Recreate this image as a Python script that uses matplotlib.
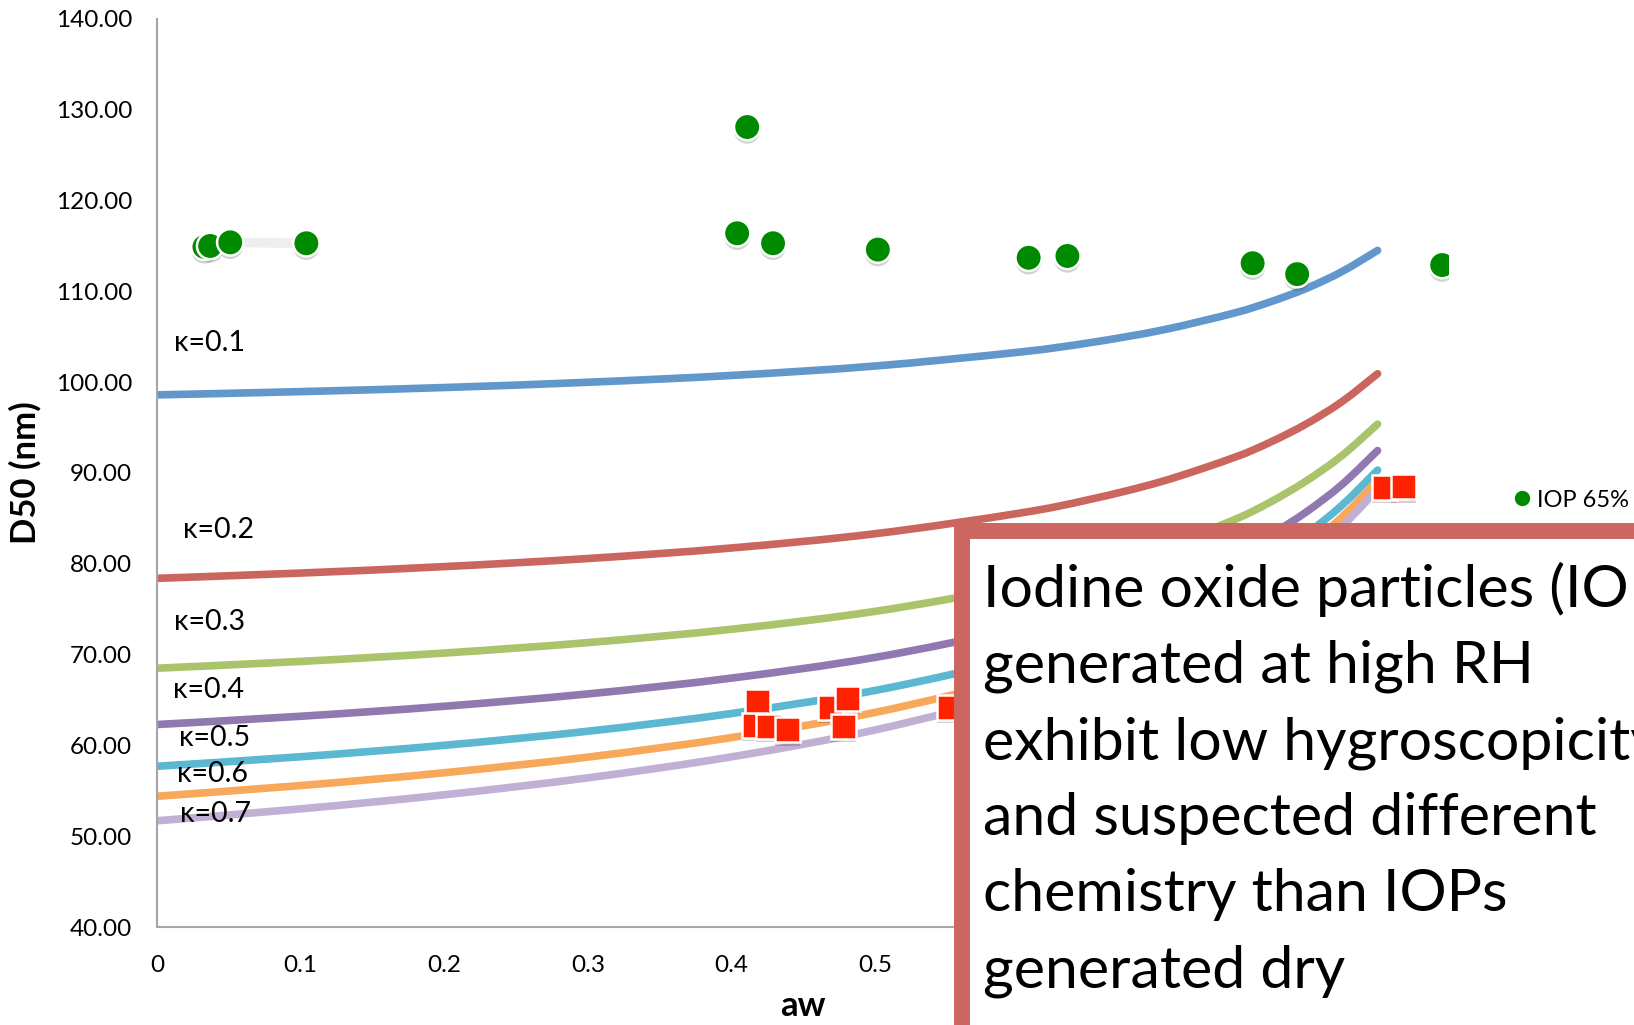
import matplotlib.pyplot as plt
import matplotlib.patheffects as pe
from matplotlib.lines import Line2D
from matplotlib.patches import Rectangle, PathPatch
from matplotlib.path import Path

plt.rcParams['font.family'] = ['Lato', 'DejaVu Sans']

# modelled curves
aw_model = [0, 0.1, 0.2, 0.3, 0.4, 0.5, 0.6, 0.65, 0.7, 0.75, 0.775, 0.8, 0.825, 0.85]
kappa_labels = ['κ=0.1', 'κ=0.2', 'κ=0.3', 'κ=0.4', 'κ=0.5', 'κ=0.6', 'κ=0.7']
d_k01 = [98.6, 98.96, 99.41, 99.99, 100.74, 101.78, 103.30, 104.36, 105.74, 107.61, 108.83, 110.30, 112.16, 114.51]
d_k02 = [78.4, 78.98, 79.69, 80.58, 81.74, 83.31, 85.56, 87.10, 89.08, 91.70, 93.37, 95.37, 97.83, 100.93]
d_k03 = [68.5, 69.25, 70.17, 71.32, 72.79, 74.76, 77.54, 79.39, 81.75, 84.84, 86.77, 89.09, 91.89, 95.38]
d_k04 = [62.3, 63.21, 64.31, 65.67, 67.41, 69.69, 72.87, 74.98, 77.61, 81.03, 83.16, 85.67, 88.70, 92.47]
d_k05 = [57.7, 58.75, 60.01, 61.56, 63.51, 66.05, 69.53, 71.82, 74.66, 78.31, 80.56, 83.22, 86.42, 90.32]
d_k06 = [54.4, 55.58, 56.99, 58.71, 60.86, 63.63, 67.38, 69.82, 72.83, 76.67, 79.04, 81.80, 85.12, 89.14]
d_k07 = [51.7, 53.01, 54.56, 56.43, 58.74, 61.70, 65.67, 68.24, 71.37, 75.38, 77.82, 80.68, 84.07, 88.21]
curves = [d_k01, d_k02, d_k03, d_k04, d_k05, d_k06, d_k07]
curve_colors = ['#6297CB', '#CB665F', '#A9C46B', '#9079AF', '#5BB8D0', '#F8A85A', '#C1B0D4']
label_pos = [(0.012, 104.3), (0.018, 83.7), (0.012, 73.6), (0.011, 66.1),
             (0.015, 60.8), (0.014, 56.9), (0.016, 52.4)]

# IOP 65% (green)
aw_iop65 = [0.033, 0.037, 0.051, 0.104, 0.411, 0.404, 0.429, 0.502, 0.607, 0.634, 0.763, 0.794, 0.895]
d_iop65 = [114.9, 115.0, 115.4, 115.3, 128.1, 116.4, 115.3, 114.6, 113.7, 113.9, 113.1, 111.9, 112.9]

# IOP dry (red squares)
aw_iopdry = [0.418, 0.416, 0.426, 0.439, 0.469, 0.481, 0.478, 0.552, 0.855, 0.868]
d_iopdry = [64.8, 62.2, 62.1, 61.7, 64.2, 65.2, 62.1, 64.2, 88.4, 88.5]

# x tick labels visible left of the text box
xticks = [0, 0.1, 0.2, 0.3, 0.4, 0.5]
xtick_labels = ['0', '0.1', '0.2', '0.3', '0.4', '0.5']


def smooth_path(xs, ys):
    # Excel-like smoothed line: cubic Bezier through the points
    verts = [(xs[0], ys[0])]
    codes = [Path.MOVETO]
    n = len(xs)
    for i in range(n - 1):
        x0, y0 = (xs[i - 1], ys[i - 1]) if i > 0 else (xs[i], ys[i])
        x1, y1 = xs[i], ys[i]
        x2, y2 = xs[i + 1], ys[i + 1]
        x3, y3 = (xs[i + 2], ys[i + 2]) if i + 2 < n else (x2, y2)
        verts += [(x1 + (x2 - x0) / 6, y1 + (y2 - y0) / 6),
                  (x2 - (x3 - x1) / 6, y2 - (y3 - y1) / 6),
                  (x2, y2)]
        codes += [Path.CURVE4] * 3
    return Path(verts, codes)


fig = plt.figure(figsize=(16.34, 10.25), dpi=100)
ax = fig.add_axes([0.0961, 0.0956, 0.7909, 0.8859])

for d, c, lab, (lx, ly) in zip(curves, curve_colors, kappa_labels, label_pos):
    ax.add_patch(PathPatch(smooth_path(aw_model, d), facecolor='none', edgecolor=c,
                           lw=5.5, capstyle='round', zorder=2))
    ax.text(lx, ly, lab, fontsize=20.5, va='center', ha='left', zorder=5)

shadow = [pe.SimplePatchShadow(offset=(0, -2.5), alpha=0.2), pe.Normal()]
ax.plot(aw_iop65[2:4], d_iop65[2:4], color='#EEEEEE', lw=7, zorder=3)
ax.plot(aw_iop65, d_iop65, ls='none', marker='o', ms=19, mfc='#008A00', mec='white',
        mew=1.8, zorder=4, path_effects=shadow)
ax.plot(aw_iopdry, d_iopdry, ls='none', marker='s', ms=18, mfc='#FF2200', mec='white',
        mew=1.8, zorder=4, path_effects=shadow)

ax.set_xlim(0, 0.9)
ax.set_ylim(40, 140)
ax.set_xticks(xticks)
ax.set_xticklabels(xtick_labels)
ax.set_yticks(range(40, 141, 10))
ax.set_yticklabels(['%.2f' % v for v in range(40, 141, 10)])
ax.tick_params(length=0, labelsize=17.5, pad=18)
ax.tick_params(axis='x', pad=20)
for s in ['top', 'right']:
    ax.spines[s].set_visible(False)
for s in ['left', 'bottom']:
    ax.spines[s].set_color('#A6A6A6')
    ax.spines[s].set_linewidth(1.5)
ax.set_xlabel('aw', fontsize=25, fontweight='bold', labelpad=10)
ax.set_ylabel('D50 (nm)', fontsize=25, fontweight='bold', labelpad=10)

leg_handle = Line2D([], [], ls='none', marker='o', ms=10, mfc='#008A00', mec='#008A00')
fig.legend(handles=[leg_handle], labels=['IOP 65%'], loc='center left',
           bbox_to_anchor=(0.9115, 0.512), frameon=False, fontsize=17,
           handletextpad=0.1, handlelength=1.0)

# annotation box covering lower right
box = Rectangle((962 / 1634, -0.1), 0.5, 1 - 531 / 1025 + 0.1, transform=fig.transFigure,
                facecolor='white', edgecolor='#CC6661', lw=11.5, zorder=10, clip_on=False)
ax.add_patch(box)
ax.text(983 / 1634, 1 - 987 / 1025,
        'Iodine oxide particles (IOPs)\ngenerated at high RH\nexhibit low hygroscopicity\n'
        'and suspected different\nchemistry than IOPs\ngenerated dry',
        transform=fig.transFigure, fontsize=42.5, va='baseline', ha='left',
        linespacing=1.53, zorder=11, clip_on=False)

fig.savefig('out.png', dpi=100)
